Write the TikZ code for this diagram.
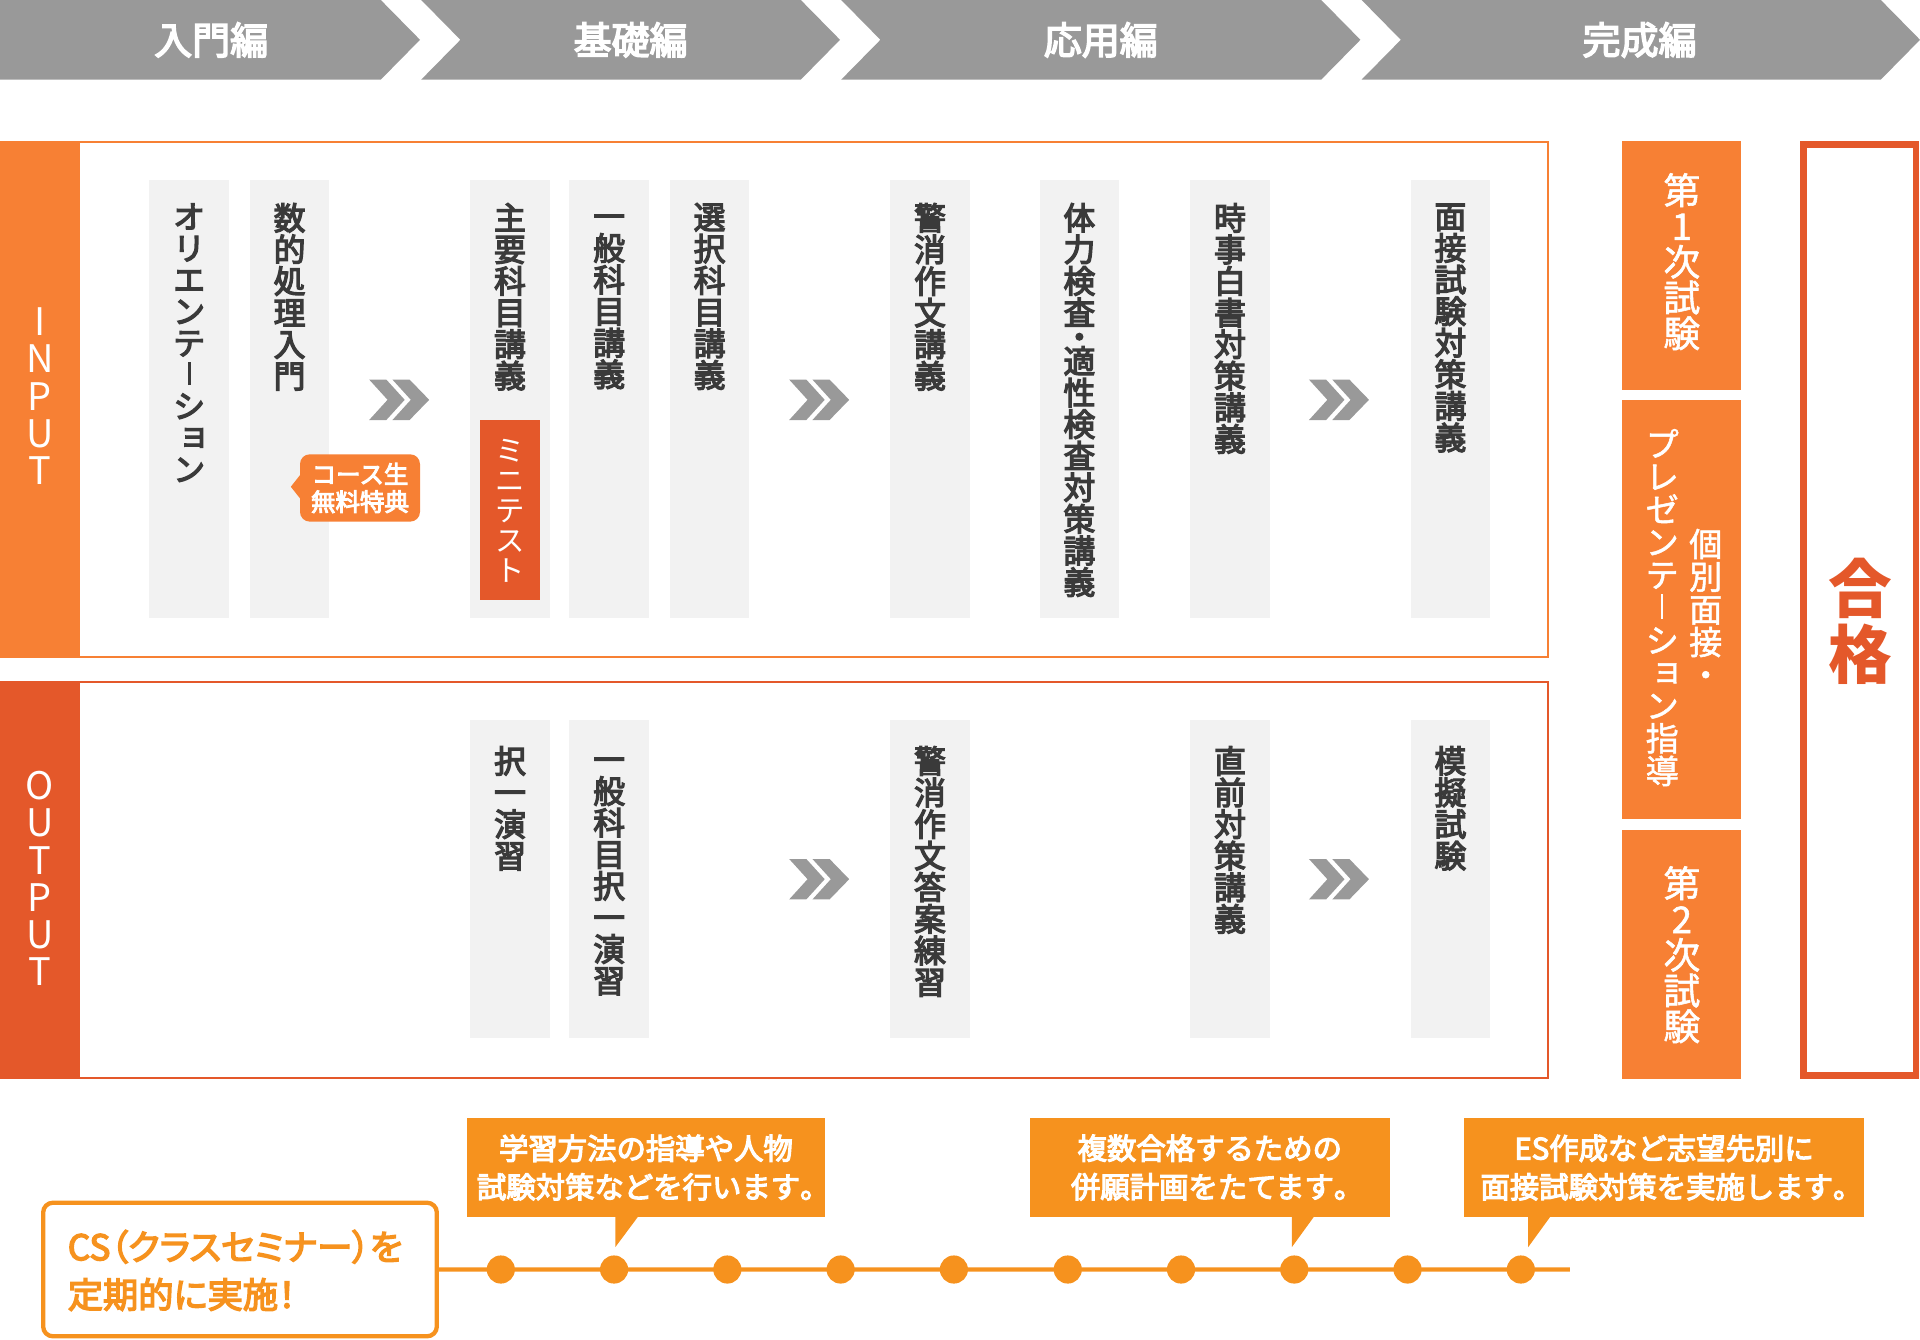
\documentclass[tikz,border=0pt]{standalone}
\usepackage{fontspec}
\usepackage{graphicx}
\newfontfamily\jp{Noto Sans CJK JP}
\newfontfamily\jpm[FakeBold=4]{Noto Sans CJK JP}
\newfontfamily\jpw[FakeBold=1.5]{Noto Sans CJK JP}
\newfontfamily\jpmp[FakeBold=4,RawFeature=+palt]{Noto Sans CJK JP}
\definecolor{hdr}{RGB}{153,153,153}
\definecolor{orA}{RGB}{247,128,52}
\definecolor{rdA}{RGB}{228,88,42}
\definecolor{amb}{RGB}{246,146,30}
\definecolor{colg}{RGB}{242,242,242}
\definecolor{txd}{RGB}{58,58,58}
\newcommand\cs{\vphantom{国}}
\newcommand\VB{\makebox[1em]{\rule[0.04em]{0.1em}{0.74em}}}
\newcommand\VBr{\makebox[1em]{\rule[0.04em]{0.07em}{0.74em}}}
\newcommand\SY[1]{\makebox[1em]{\hspace{0.3em}\raisebox{0.12em}{#1}}}
\newcommand\KM{\makebox[0.5em][l]{。}}
\begin{document}
\begin{tikzpicture}[x=0.5pt,y=-0.5pt,
  hdrlab/.style={text=white, inner sep=0pt, font=\jpm\fontsize{15.5}{16}\selectfont},
  colbox/.style={fill=colg, draw=none, anchor=north west, inner sep=0pt, outer sep=0pt, minimum width=32.5pt},
  vtxt/.style={anchor=north, align=center, inner sep=0pt, text=txd, font=\jpm\fontsize{13}{12.9}\selectfont},
  wtxt/.style={anchor=north, align=center, inner sep=0pt, text=white, font=\jpw\fontsize{15}{14.6}\selectfont},
  pbox/.style={anchor=north west, inner sep=0pt, outer sep=0pt, minimum width=48.75pt},
  bartxt/.style={align=center, inner sep=0pt, text=white, font=\jp\fontsize{15.5}{15.2}\selectfont},
  callout/.style={fill=amb, text=white, align=center, inner sep=0pt, minimum height=40.5pt, font=\jpm\fontsize{12}{15.75}\selectfont},
  dot/.style={circle, fill=amb, inner sep=0pt, minimum size=11.5pt},
  dchev/.pic={
    \fill[hdr] (-25,-16.5)--(-11,-16.5)--(4,0)--(-11,16.5)--(-25,16.5)--(-10,0)--cycle;
    \fill[hdr] (-6,-16.5)--(8,-16.5)--(24,0)--(8,16.5)--(-6,16.5)--(9,0)--cycle;}
]
\useasboundingbox (0,0) rectangle (1568,1094.3);

% header chevrons
\fill[hdr] (0,0)--(311,0)--(343,32.5)--(311,65)--(0,65)--cycle;
\fill[hdr] (344,0)--(654,0)--(686,32.5)--(654,65)--(344,65)--(376,32.5)--cycle;
\fill[hdr] (687,0)--(1079,0)--(1111,32.5)--(1079,65)--(687,65)--(719,32.5)--cycle;
\fill[hdr] (1112,0)--(1536,0)--(1568,32.5)--(1536,65)--(1112,65)--(1144,32.5)--cycle;
\node[hdrlab] (h1) at (172.5,32.6) {入門編};
\node[hdrlab] (h2) at (515,32.6) {基礎編};
\node[hdrlab] (h3) at (899,32.6) {応用編};
\node[hdrlab] (h4) at (1339,32.6) {完成編};

% INPUT frame
\draw[orA, line width=0.75pt] (0.75,115.75) rectangle (1264.25,536.25);
\fill[orA] (0,115) rectangle (65,537);
\node[bartxt] (inlab) at (32.5,323.5) {I\\N\\P\\U\\T};

% OUTPUT frame
\draw[rdA, line width=0.75pt] (0.75,556.75) rectangle (1264.25,880.25);
\fill[rdA] (0,556) rectangle (65,881);
\node[bartxt] (outlab) at (32.5,717.5) {O\\U\\T\\P\\U\\T};

% INPUT columns
\node[colbox, minimum height=179pt] (b1) at (122,147) {};
\node[colbox, minimum height=179pt] (b2) at (204,147) {};
\node[colbox, minimum height=179pt] (b3) at (384,147) {};
\node[colbox, minimum height=179pt] (b4) at (465,147) {};
\node[colbox, minimum height=179pt] (b5) at (547,147) {};
\node[colbox, minimum height=179pt] (b6) at (727,147) {};
\node[colbox, minimum height=179pt] (b7) at (849,147) {};
\node[colbox, minimum height=179pt] (b8) at (972,147) {};
\node[colbox, minimum height=179pt] (b9) at (1152,147) {};
\node[vtxt] (t1) at (154.5,165.5) {\cs オ\\リ\\エ\\ン\\テ\\\VB\\シ\\\SY{ョ}\\ン};
\node[vtxt] (t2) at (236.5,165.5) {\cs 数\\的\\処\\理\\入\\門};
\node[vtxt] (t3) at (416.5,165.5) {\cs 主\\要\\科\\目\\講\\義};
\node[vtxt] (t4) at (497.5,165.5) {\cs 一\\般\\科\\目\\講\\義};
\node[vtxt] (t5) at (579.5,165.5) {\cs 選\\択\\科\\目\\講\\義};
\node[vtxt] (t6) at (759.5,165.5) {\cs 警\\消\\作\\文\\講\\義};
\node[vtxt] (t7) at (881.5,165.5) {\cs 体\\力\\検\\査\\[-3pt]・\\[-3pt]適\\性\\検\\査\\対\\策\\講\\義};
\node[vtxt] (t8) at (1004.5,165.5) {\cs 時\\事\\白\\書\\対\\策\\講\\義};
\node[vtxt] (t9) at (1184.5,165.5) {\cs 面\\接\\試\\験\\対\\策\\講\\義};

% badge
\fill[orA] (245,388) -- (237.5,397.5) -- (245,407) -- cycle;
\node[fill=orA, rounded corners=4pt, minimum width=49pt, minimum height=27.5pt, inner sep=0pt, text=white, align=center, font=\jpm\fontsize{10}{11.25}\selectfont] (badge) at (294,398.5) {コース生\\無料特典};

% mini test
\node[fill=rdA, anchor=north west, minimum width=24.5pt, minimum height=73.5pt, inner sep=0pt, outer sep=0pt] (mini) at (392,343) {};
\node[wtxt, font=\jp\fontsize{12}{12.3}\selectfont] (minit) at (416.5,357) {\cs ミ\\ニ\\テ\\ス\\ト};

% OUTPUT columns
\node[colbox, minimum height=130pt] (p1) at (384,588) {};
\node[colbox, minimum height=130pt] (p2) at (465,588) {};
\node[colbox, minimum height=130pt] (p3) at (727,588) {};
\node[colbox, minimum height=130pt] (p4) at (972,588) {};
\node[colbox, minimum height=130pt] (p5) at (1152,588) {};
\node[vtxt] (u1) at (416.5,609) {\cs 択\\一\\演\\習};
\node[vtxt] (u2) at (497.5,609) {\cs 一\\般\\科\\目\\択\\一\\演\\習};
\node[vtxt] (u3) at (759.5,609) {\cs 警\\消\\作\\文\\答\\案\\練\\習};
\node[vtxt] (u4) at (1004.5,609) {\cs 直\\前\\対\\策\\講\\義};
\node[vtxt] (u5) at (1184.5,609) {\cs 模\\擬\\試\\験};

% double chevrons
\pic at (326.5,326.5) {dchev};
\pic at (669.5,326.5) {dchev};
\pic at (1094,326.5) {dchev};
\pic at (669.5,718) {dchev};
\pic at (1094,718) {dchev};

% right boxes
\node[pbox, fill=orA, minimum height=101.75pt] (ex1) at (1324.5,115) {};
\node[wtxt] (ex1t) at (1373.5,141) {\cs 第\\1\\次\\試\\験};
\node[pbox, fill=orA, minimum height=171.25pt] (ex2) at (1324.5,326.5) {};
\node[wtxt, font=\jpw\fontsize{13.5}{13.35}\selectfont] (ex2a) at (1393,431.5) {\cs 個\\別\\面\\接\\・};
\node[wtxt, font=\jpw\fontsize{13.5}{13.35}\selectfont] (ex2b) at (1357.5,350) {\cs プ\\レ\\ゼ\\ン\\テ\\\VBr\\シ\\\SY{ョ}\\ン\\指\\導};
\node[pbox, fill=orA, minimum height=101.6pt] (ex3) at (1324.5,677.8) {};
\node[wtxt] (ex3t) at (1373.5,707) {\cs 第\\2\\次\\試\\験};

% goal
\node[draw=rdA, line width=2.75pt, anchor=north west, inner sep=0pt, outer sep=0pt, minimum width=46pt, minimum height=380.25pt] (goal) at (1472.75,117.75) {};
\node[anchor=north, align=center, inner sep=0pt, text=rdA, font=\jp\bfseries\fontsize{26}{27}\selectfont] (goalt) at (1519,455) {\cs 合\\格};

% timeline
\node[draw=amb, line width=1.75pt, rounded corners=4pt, anchor=north west, inner sep=0pt, outer sep=0pt, minimum width=160.75pt, minimum height=54.55pt] (cs) at (35.25,982.2) {};
\node[anchor=west, align=left, inner sep=0pt, text=amb, font=\jpmp\fontsize{14.4}{19.5}\selectfont] (cstxt) at (55,1037.5) {CS（クラスセミナー）を\\定期的に実施！};
\coordinate (tlend) at (1282,1036.75);
\draw[amb, line width=1.75pt] (cs.east) -- (tlend);
\foreach \x [count=\i] in {409,501.5,594,686.5,779,872,964.5,1057,1149.5,1242}
  \node[dot] (d\i) at (\x,1036.75) {};

% callouts
\node[callout, minimum width=146.5pt] (co1) at (527.5,953.5) {学習方法の指導や人物\\試験対策などを行います\KM};
\fill[amb] (502.5,993) -- (521.5,993) -- (502.5,1018.5) -- cycle;
\node[callout, minimum width=147pt] (co2) at (988,953.5) {複数合格するための\\併願計画をたてます\KM};
\fill[amb] (1055,993) -- (1073.5,993) -- (1055,1018.5) -- cycle;
\node[callout, minimum width=163.5pt] (co3) at (1359,953.5) {ES作成など志望先別に\\面接試験対策を実施します\KM};
\fill[amb] (1248,993) -- (1266.5,993) -- (1248,1018.5) -- cycle;
\end{tikzpicture}
\end{document}
